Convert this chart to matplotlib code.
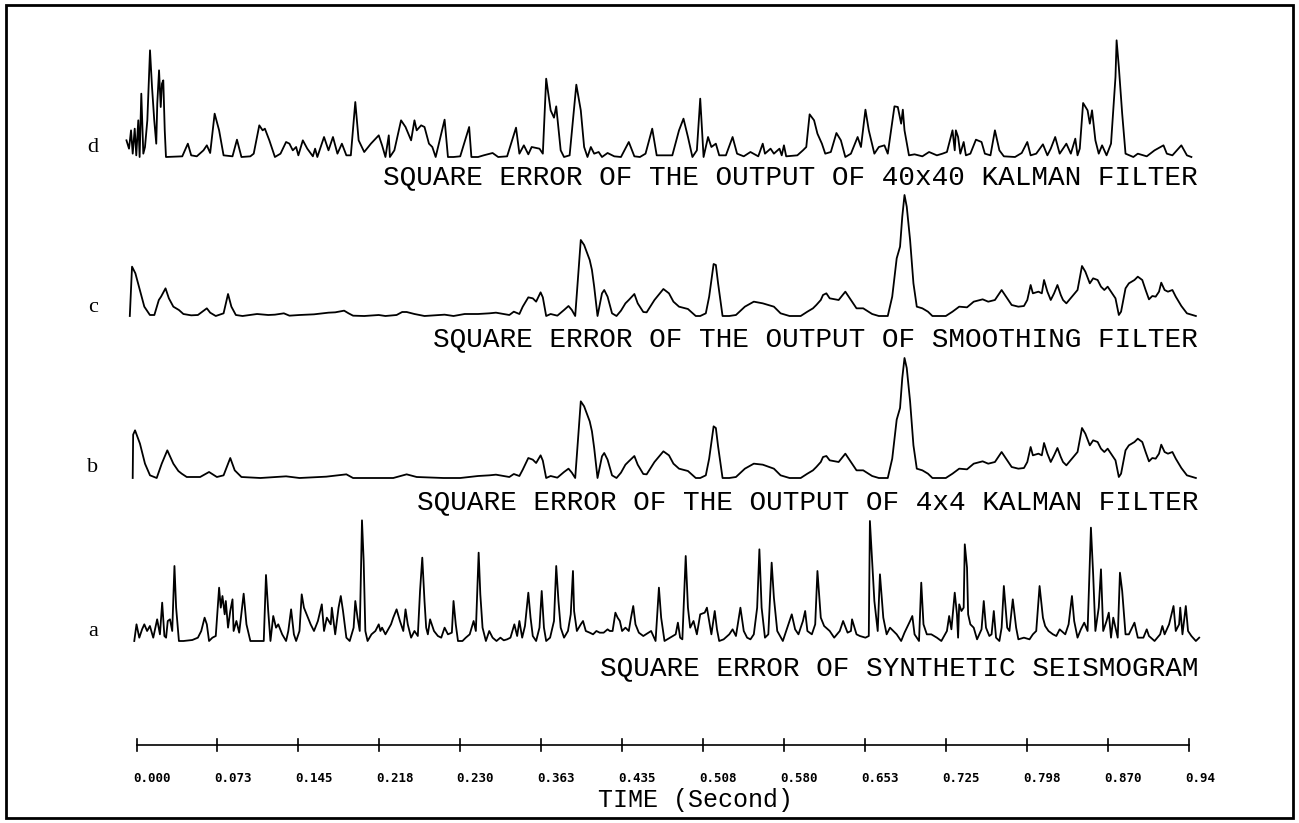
import matplotlib
matplotlib.use("Agg")
import matplotlib.pyplot as plt
from matplotlib.patches import Rectangle

# ---------------- data (time in ms, amplitude in relative units) ----------------
trace_d = [(-9, 50), (-6.7, 25), (-4.9, 80), (-3.4, 10), (-1.6, 85), (-0.2, 5), (1.6, 110), (2.8, 0),
           (4.3, 190), (6.1, 10), (7.6, 30), (9.7, 110), (12.1, 320), (13.9, 210), (15.9, 110), (17.7, 40),
           (18.6, 160), (20.2, 260), (21.7, 150), (22.8, 220), (24.0, 230), (25.3, 80), (26.4, 0),
           (41, 2), (46, 40), (49, 5), (54, 2), (60, 20), (63, 35), (66, 12), (70, 130), (74, 80), (78, 5),
           (86, 2), (90, 52), (94, 0), (102, 2), (105, 10), (110, 95), (113, 80), (115, 85), (119, 50),
           (124, 0), (129, 10), (134, 45), (137, 40), (140, 20), (143, 30), (145, 5), (149, 50), (153, 25),
           (158, 2), (160, 25), (162, 0), (168, 60), (172, 20), (176, 60), (180, 10), (184, 40), (188, 5),
           (192, 5), (196, 165), (199, 50), (204, 15), (210, 40), (217, 65), (220, 35), (223, 0), (226, 65),
           (227, 0), (231, 20), (237, 110), (241, 90), (246, 50), (249, 110), (251, 80), (255, 95), (258, 90),
           (262, 40), (265, 30), (268, 0), (276, 112), (279, 0), (284, 0), (290, 2), (298, 90), (300, 0),
           (306, 0), (311, 5), (319, 12), (324, 0), (332, 2), (340, 88), (343, 10), (347, 35), (351, 8),
           (354, 30), (361, 25), (364, 10), (367, 235), (371, 140), (374, 118), (376, 152), (380, 20),
           (383, 0), (388, 5), (394, 217), (398, 140), (401, 30), (404, 0), (407, 30), (410, 10), (414, 15),
           (417, 0), (422, 12), (428, 2), (434, 0), (441, 45), (446, 2),
           (451, 0), (456, 10), (462, 85), (466, 5), (480, 5), (486, 80), (490, 115), (494, 60), (498, 0),
           (502, 20), (505, 175), (508, 0), (512, 60), (515, 30), (519, 40), (522, 5), (528, 5), (534, 60),
           (538, 10), (544, 2), (550, 15), (557, 2), (561, 40), (563, 10), (568, 25), (571, 10), (576, 25),
           (578, 5), (580, 35), (582, 2), (592, 5), (597, 20), (600, 30), (603, 128), (607, 110), (610, 70),
           (614, 40), (617, 10), (622, 15), (627, 72), (631, 50), (635, 0), (640, 10), (646, 60), (649, 30),
           (653, 142), (656, 80), (661, 10), (665, 30), (670, 35), (673, 10), (679, 152), (682, 150),
           (685, 100), (686.5, 142), (688, 80), (692, 5), (697, 8), (704, 2), (710, 15), (717, 5), (722, 10),
           (726, 15), (731, 80), (733, 20), (734, 80), (736, 60), (738, 10), (741, 45), (743, 5), (747, 10),
           (752, 52), (757, 45), (760, 10), (765, 5), (769, 80), (773, 20), (777, 2), (787, 0), (793, 12),
           (798, 45), (801, 5), (806, 10), (812, 38), (816, 5), (819, 25), (823, 60), (827, 10), (833, 40),
           (837, 10), (841, 55), (843, 5), (845, 25), (848, 162), (852, 140), (854, 100), (856, 140),
           (859, 50), (862, 10), (865, 35), (869, 5), (873, 40), (877, 240), (878, 350), (880, 270),
           (883, 130), (886, 10), (893, 0), (897, 10), (905, 2), (912, 20), (920, 35), (923, 10), (928, 5),
           (936, 35), (941, 5), (945, 0)]

trace_c = [(-6, 0), (-4, 148), (-1, 128), (3, 78), (7, 28), (12, 3), (16, 3), (20, 48), (22, 58), (26, 83),
           (29, 53), (33, 28), (38, 18), (42, 6), (49, 2), (55, 3), (63, 23), (66, 10), (71, 0), (78, 8),
           (82, 66), (85, 28), (89, 3), (95, 0), (108, 6), (118, 3), (124, 4), (132, 8), (137, 1), (146, 3),
           (159, 5), (172, 10), (178, 11), (186, 16), (190, 8), (194, 1), (204, 0), (217, 3), (223, 0),
           (233, 3), (238, 12), (242, 12), (249, 6), (258, 0), (276, 4), (284, 0), (294, 6), (306, 6),
           (316, 8), (322, 10), (329, 6), (334, 3), (338, 13), (343, 6), (346, 28), (351, 56), (355, 53),
           (358, 43), (362, 71), (364, 56), (367, 0), (371, 6), (377, 1), (383, 18), (387, 30), (390, 18),
           (393, 0), (398, 228), (401, 213), (406, 168), (408, 138), (410, 88), (413, 0), (417, 68),
           (419, 78), (422, 58), (426, 8), (430, 0), (434, 16), (438, 38), (441, 48), (446, 66), (449, 38),
           (454, 12), (457, 11), (464, 48), (472, 81), (477, 68), (481, 43), (486, 28), (494, 21), (501, 0),
           (505, 0), (510, 8), (513, 58), (517, 156), (519, 153), (521, 98), (525, 0), (531, 0), (537, 3),
           (545, 28), (553, 43), (561, 38), (571, 28), (577, 8), (585, 0), (595, 0), (601, 13), (606, 23),
           (609, 33), (613, 48), (615, 63), (618, 68), (621, 53), (629, 48), (635, 73), (640, 48), (645, 23),
           (651, 23), (659, 6), (665, 0), (673, 0), (677, 58), (681, 173), (684, 208), (686, 298), (688, 363),
           (690, 328), (693, 228), (696, 98), (699, 28), (704, 23), (709, 13), (713, 0), (718, 0), (725, 0),
           (731, 13), (737, 28), (744, 26), (750, 43), (758, 50), (763, 43), (769, 48), (775, 78), (779, 58),
           (784, 33), (790, 28), (795, 30), (798, 48), (801, 93), (803, 68), (808, 73), (811, 68), (813, 108),
           (816, 73), (819, 48), (822, 68), (825, 93), (828, 63), (830, 48), (833, 38), (838, 58), (843, 78),
           (847, 150), (850, 133), (854, 98), (857, 113), (861, 108), (864, 88), (867, 78), (870, 88),
           (873, 73), (877, 53), (880, 3), (882, 13), (886, 83), (889, 98), (894, 108), (897, 118), (901, 108),
           (904, 78), (907, 50), (910, 60), (913, 58), (916, 73), (918, 100), (921, 78), (924, 73), (928, 78),
           (931, 58), (936, 30), (941, 8), (949, 0)]

trace_b = [(-3.4, 0), (-3.0, 130), (-1.3, 143), (3.1, 103), (7.6, 43), (12.1, 8), (18.1, 0), (22.6, 43),
           (27.6, 83), (33, 43), (37.5, 21), (40.5, 13), (45, 3), (57, 3), (65, 18), (72, 3), (78, 8),
           (84, 60), (88, 23), (94, 3), (111, 0), (134, 5), (146, 0), (170, 4), (188, 11), (194, 0), (230, 0),
           (242, 11), (251, 3), (275, 0), (290, 0), (306, 6), (316, 8), (322, 10), (329, 6), (334, 3),
           (338, 12), (343, 6), (346, 25), (351, 60), (355, 55), (358, 45), (362, 68), (364, 52), (367, 0),
           (371, 6), (377, 1), (383, 18), (387, 28), (390, 16), (393, 0), (398, 230), (401, 215), (406, 170),
           (408, 140), (410, 90), (413, 0), (417, 65), (419, 75), (422, 55), (426, 8), (430, 0), (434, 16),
           (438, 40), (441, 50), (446, 66), (449, 40), (454, 12), (457, 11), (464, 48), (472, 80), (477, 68),
           (481, 43), (486, 28), (494, 21), (501, 0), (505, 0), (510, 8), (513, 58), (517, 155), (519, 150),
           (521, 95), (525, 0), (531, 0), (537, 3), (545, 28), (553, 43), (561, 40), (571, 28), (577, 8),
           (585, 0), (595, 0), (601, 13), (606, 23), (609, 33), (613, 48), (615, 63), (618, 66), (621, 53),
           (629, 48), (635, 73), (640, 48), (645, 23), (651, 23), (659, 6), (665, 0), (673, 0), (677, 58),
           (681, 175), (684, 210), (686, 300), (688, 360), (690, 330), (693, 230), (696, 98), (699, 28),
           (704, 23), (709, 13), (713, 0), (718, 0), (725, 0), (731, 13), (737, 28), (744, 26), (750, 43),
           (758, 50), (763, 43), (769, 48), (775, 78), (779, 58), (784, 33), (790, 28), (795, 30), (798, 48),
           (801, 93), (803, 68), (808, 73), (811, 68), (813, 105), (816, 73), (819, 48), (822, 68), (825, 90),
           (828, 63), (830, 48), (833, 38), (838, 58), (843, 78), (847, 150), (850, 133), (854, 98),
           (857, 113), (861, 108), (864, 88), (867, 78), (870, 88), (873, 73), (877, 53), (880, 3), (882, 13),
           (886, 83), (889, 98), (894, 108), (897, 118), (901, 108), (904, 78), (907, 50), (910, 60),
           (913, 58), (916, 73), (918, 100), (921, 78), (924, 73), (928, 78), (931, 58), (936, 30), (941, 8),
           (949, 0)]

trace_a = [(-2, 0), (0, 50), (2.5, 10), (5, 35), (7, 50), (9.5, 30), (12, 45), (15, 10), (18.5, 65), (21, 20),
           (23, 115), (25, 15), (26.5, 10), (28, 60), (30, 65), (32, 30), (34, 225), (35.5, 100), (37, 40),
           (38, 0), (42, 0), (50, 3), (55, 10), (58, 30), (61, 70), (63, 50), (65, 0), (68, 10), (71, 15),
           (74, 160), (75.5, 100), (77, 135), (79, 80), (80, 120), (82, 40), (84, 90), (86, 125), (87, 30),
           (89.5, 60), (92, 25), (96, 142), (98.5, 50), (102, 0), (114, 0), (116, 198), (118, 90), (120, 0),
           (122.5, 75), (125, 40), (127, 50), (130.5, 20), (134, 0), (136, 30), (138.5, 95), (141, 20),
           (143, 0), (146, 30), (148, 140), (150, 100), (153, 75), (156, 50), (159, 30), (162.5, 60),
           (166, 110), (168, 30), (170.5, 70), (174, 50), (175, 100), (178, 20), (181, 100), (183, 135),
           (185, 90), (188, 10), (191, 0), (194.5, 40), (196, 120), (198, 70), (200, 30), (202, 362),
           (203.5, 240), (205, 30), (207, 0), (210.5, 20), (214, 30), (217, 50), (218.5, 30), (220, 40),
           (223, 20), (228, 50), (230, 70), (233, 95), (236, 60), (239, 30), (241, 95), (243, 50), (246, 10),
           (249, 30), (252, 15), (254, 150), (256, 250), (258, 120), (259.5, 40), (261, 20), (263, 65),
           (266.5, 30), (270, 15), (273, 10), (276, 40), (279, 20), (282.5, 25), (284, 120), (286, 50),
           (288, 0), (292, 0), (295, 10), (298.5, 20), (302, 60), (304, 30), (306.5, 265), (308, 140),
           (310, 40), (313, 0), (316, 30), (319, 10), (322.5, 0), (326, 10), (329, 2), (332, 5), (335, 10),
           (338.5, 50), (341, 15), (343, 60), (345.5, 10), (348, 45), (351, 145), (353, 70), (355, 15),
           (358, 0), (361, 40), (363, 150), (365, 40), (367, 0), (370.5, 10), (374, 60), (376, 225),
           (378, 120), (380, 40), (383, 10), (386.5, 30), (389, 80), (391, 210), (392, 90), (394.5, 30),
           (398, 50), (400, 60), (402.5, 30), (406, 25), (409, 20), (412, 30), (415, 25), (418.5, 25),
           (422, 35), (424, 30), (426.5, 30), (429, 85), (431, 70), (433, 60), (435, 30), (438, 40), (441, 30),
           (443, 70), (445, 105), (447, 50), (450, 25),
           (454, 15), (461, 30), (465, 0), (468, 160), (470, 70), (473, 0), (478, 10), (483, 20), (485, 55),
           (487, 10), (489, 5), (492, 255), (494, 100), (496, 40), (499, 60), (502, 20), (505, 80), (509, 85),
           (511, 100), (513, 60), (515, 20), (518, 90), (520, 35), (522, 0), (526, 5), (531, 20), (534, 35),
           (537, 15), (541, 100), (544, 30), (547, 10), (550, 5), (553, 20), (556, 100), (558, 275),
           (560, 100), (563, 10), (566, 20), (569, 235), (571, 130), (574, 30), (579, 0), (583, 40), (587, 80),
           (590, 35), (593, 20), (597, 60), (599, 90), (601, 30), (605, 20), (608, 50), (610, 210), (613, 70),
           (616, 45), (621, 30), (625, 10), (630, 30), (633, 60), (637, 25), (640, 30), (641, 65), (645, 20),
           (648, 15), (653, 10), (656, 15), (657, 360), (659, 240), (661, 120), (664, 30), (666, 200),
           (669, 70), (672, 20), (675, 40), (678, 30), (681, 20), (685, 0), (688, 25), (693, 60), (695, 75),
           (697, 20), (701, 0), (703, 175), (705, 50), (708, 20), (712, 20), (717, 10), (721, 0), (726, 30),
           (728, 75), (730, 35), (733, 145), (735, 80), (736, 10), (737, 110), (739, 90), (741, 100),
           (742, 290), (744, 220), (745, 80), (747, 50), (750, 40), (753, 5), (757, 35), (759, 120), (761, 40),
           (764, 15), (766, 20), (768, 90), (770, 10), (773, 0), (775, 40), (777, 165), (780, 40), (782, 30),
           (785, 125), (788, 40), (790, 5), (795, 10), (800, 5), (803, 20), (806, 30), (809, 165), (812, 70),
           (814, 45), (817, 30), (821, 20), (824, 15), (827, 35), (832, 20), (835, 50), (838, 135), (840, 60),
           (843, 10), (846, 35), (849, 55), (852, 30), (855, 340), (857, 200), (859, 30), (862, 100),
           (864, 215), (866, 30), (869, 60), (871, 85), (873, 10), (875, 70), (877, 40), (879, 10), (881, 205),
           (883, 150), (886, 20), (889, 20), (894, 55), (897, 10), (902, 10), (905, 35), (907, 15), (912, 0),
           (917, 20), (919, 45), (921, 20), (925, 50), (929, 105), (931, 30), (934, 50), (935, 100),
           (937, 20), (940, 105), (942, 30), (945, 15), (949, 0), (952, 10)]

trace_letters = ["d", "c", "b", "a"]
trace_captions = ["SQUARE ERROR OF THE OUTPUT OF 40x40 KALMAN FILTER",
                  "SQUARE ERROR OF THE OUTPUT OF SMOOTHING FILTER",
                  "SQUARE ERROR OF THE OUTPUT OF 4x4 KALMAN FILTER",
                  "SQUARE ERROR OF SYNTHETIC SEISMOGRAM"]
tick_step_ms = 72.5
tick_labels = ["0.000", "0.073", "0.145", "0.218", "0.230", "0.363", "0.435",
               "0.508", "0.580", "0.653", "0.725", "0.798", "0.870", "0.94"]
axis_title = "TIME (Second)"

# ---------------- layout ----------------
W, H = 1299, 823
T0_PX, TEND_PX = 136.5, 1188.6
n_int = len(tick_labels) - 1
MS_PER_PX = n_int * tick_step_ms / (TEND_PX - T0_PX)
AMP = 1.0 / 3.0          # pixels per amplitude unit
baselines = [157, 316, 478, 641]
letter_y = [147, 307, 467, 632]
caption_y = [177, 339, 502, 668]

fig = plt.figure(figsize=(W / 100, H / 100), dpi=100)
fig.patch.set_facecolor("white")
ax = fig.add_axes([0, 0, 1, 1])
ax.set_xlim(-T0_PX * MS_PER_PX, (W - T0_PX) * MS_PER_PX)
ax.set_ylim(H, 0)
ax.axis("off")

def px(dx):
    return dx * MS_PER_PX

traces = [trace_d, trace_c, trace_b, trace_a]
for pts, base, letter, ly, cap, cy in zip(traces, baselines, trace_letters, letter_y,
                                          trace_captions, caption_y):
    t = [p[0] for p in pts]
    y = [base - p[1] * AMP for p in pts]
    ax.plot(t, y, color="black", lw=1.3, solid_joinstyle="round")
    ax.text(px(93 - T0_PX), ly, letter, ha="center", va="center",
            family="Liberation Serif", fontsize=16, color="black")
    ax.text(px(1198 - T0_PX), cy, cap, ha="right", va="center",
            family="Liberation Mono", fontsize=20, color="black")

# time axis
axis_y = 745
ticks_ms = [k * tick_step_ms for k in range(len(tick_labels))]
ax.plot([ticks_ms[0], ticks_ms[-1]], [axis_y, axis_y], color="black", lw=1.2)
for tm, lab in zip(ticks_ms, tick_labels):
    ax.plot([tm, tm], [axis_y - 6, axis_y + 6], color="black", lw=1.2)
    ax.text(tm - px(3.5), 779, lab, ha="left", va="center",
            family="DejaVu Sans Mono", fontweight="bold", fontsize=9, color="black")
ax.text(px(695 - T0_PX), 800, axis_title, ha="center", va="center",
        family="Liberation Mono", fontsize=18, color="black")

# frame
fig.add_artist(Rectangle((6 / W, 1 - 818 / H), (1293 - 6) / W, (818 - 5) / H,
                         fill=False, lw=2, edgecolor="black", transform=fig.transFigure))

fig.savefig("out.png", dpi=100, facecolor="white")
